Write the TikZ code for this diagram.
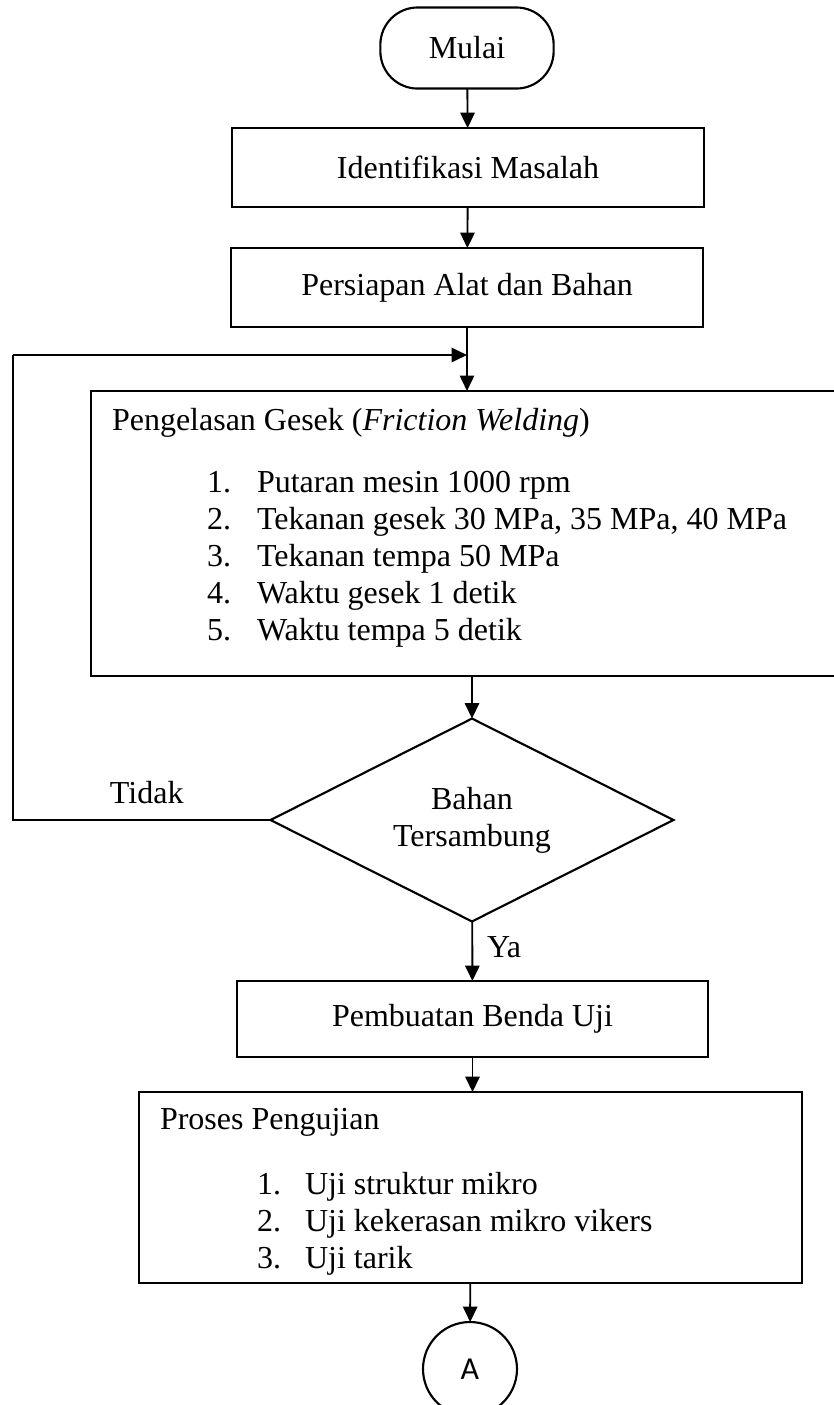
\documentclass[tikz,border=0pt]{standalone}
\usepackage{fontspec}
\setmainfont{Liberation Serif}
\newfontfamily\hurufA{Carlito}
\usetikzlibrary{arrows.meta,shapes.geometric}

\begin{document}
\begin{tikzpicture}[x=0.375pt,y=-0.375pt,
	font=\fontsize{12}{13.9}\selectfont,
	kotak/.style={draw,rectangle,line width=0.8pt,inner sep=0,outer sep=0},
	teks/.style={inner sep=0,outer sep=0,anchor=base west},
	panah/.style={line width=0.7pt,-{Triangle[length=5.8pt,width=5.4pt]}}]
	\useasboundingbox (0,0) rectangle (834,1405);
	\node[kotak,rounded corners=14pt,minimum width=65pt,minimum height=30.4pt] (mulai) at (467,48) {Mulai};
	\node[kotak,minimum width=177pt,minimum height=29.6pt] (identifikasi) at (468,167.5) {Identifikasi Masalah};
	\node[kotak,minimum width=177pt,minimum height=29.6pt] (persiapan) at (467,287.5) {Persiapan Alat dan Bahan};
	\node[kotak,minimum width=282.75pt,minimum height=106.9pt] (pengelasan) at (468,533.5) {};
	\node[teks] (judullas) at (112,430) {Pengelasan Gesek (\textit{Friction Welding})};
	\foreach \nomor/\butir [count=\i] in {1./Putaran mesin 1000 rpm,2./{Tekanan gesek 30 MPa, 35 MPa, 40 MPa},3./Tekanan tempa 50 MPa,4./Waktu gesek 1 detik,5./Waktu tempa 5 detik}{
		\node[teks] (nolas\i) at (207,{455+37*\i}) {\nomor};
		\node[teks] (isilas\i) at (257,{455+37*\i}) {\butir};
	}
	\node[draw,diamond,shape aspect=2,line width=0.8pt,inner sep=0,outer sep=0,minimum width=151.1pt,minimum height=76.1pt,align=center] (keputusan) at (472,820) {Bahan\\Tersambung};
	\node[kotak,minimum width=176.6pt,minimum height=28.5pt] (pembuatan) at (472.5,1019) {Pembuatan Benda Uji};
	\node[kotak,minimum width=248.6pt,minimum height=71.6pt] (pengujian) at (470.5,1187.5) {};
	\node[teks] (judululi) at (160,1129) {Proses Pengujian};
	\foreach \nomor/\butir [count=\i] in {1./Uji struktur mikro,2./Uji kekerasan mikro vikers,3./Uji tarik}{
		\node[teks] (nouji\i) at (257,{1157+37*\i}) {\nomor};
		\node[teks] (isiuji\i) at (305,{1157+37*\i}) {\butir};
	}
	\node[draw,circle,line width=0.8pt,inner sep=0,outer sep=0,minimum size=35.25pt,font=\hurufA\fontsize{12}{14}\selectfont] (A) at (470,1369) {A};
	\node[teks] (tidak) at (110,803) {Tidak};
	\node[teks] (ya) at (487,957) {Ya};
	\coordinate (kiri) at (13,355);
	\coordinate (gabung) at (persiapan.south |- kiri);
	\draw[panah] (mulai) -- (identifikasi);
	\draw[panah] (identifikasi) -- (persiapan);
	\draw[panah] (persiapan) -- (persiapan.south |- pengelasan.north);
	\draw[line width=0.45pt] (keputusan.west) -| (kiri);
	\draw[panah] (kiri) -- (gabung);
	\draw[panah] (keputusan.north |- pengelasan.south) -- (keputusan);
	\draw[panah] (keputusan) -- (pembuatan);
	\draw[panah] (pembuatan.south) -- (pembuatan.south |- pengujian.north);
	\draw[panah] (pengujian) -- (A);
\end{tikzpicture}
\end{document}
